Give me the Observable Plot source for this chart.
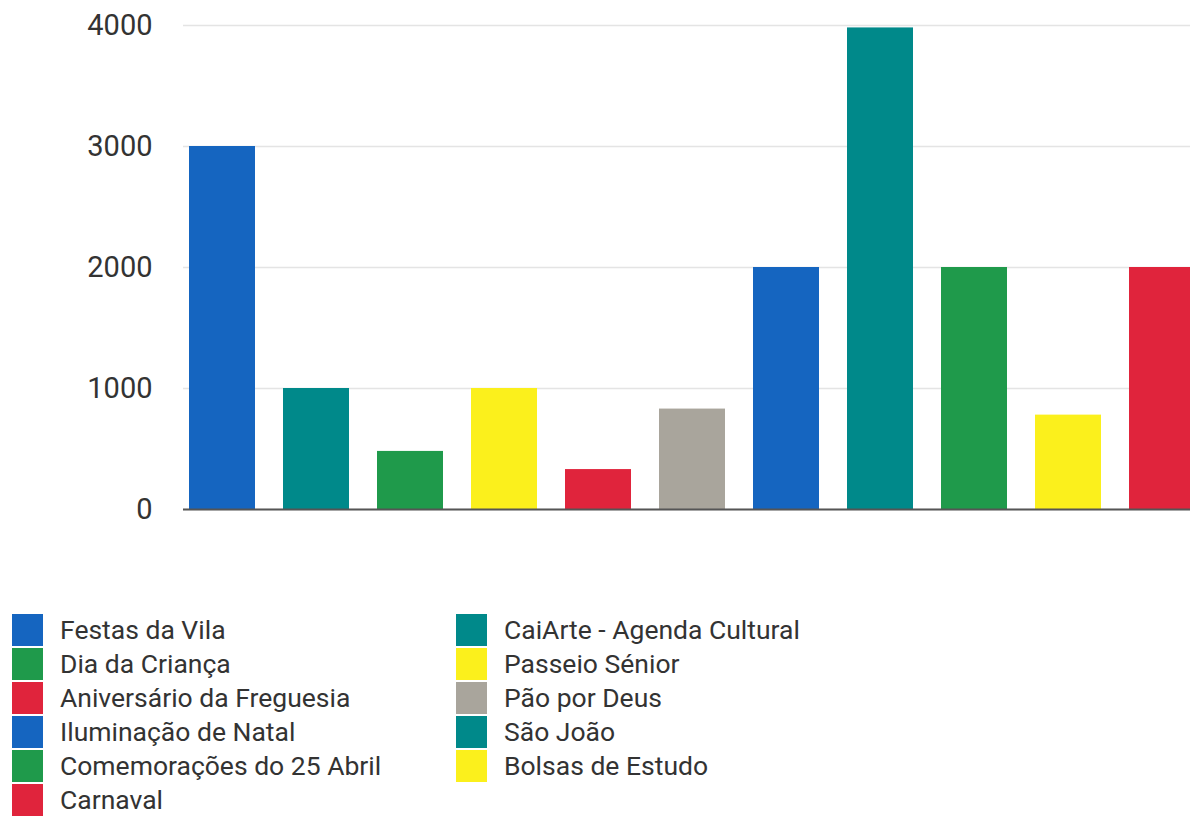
<!DOCTYPE html>
<html>
<head>
<meta charset="utf-8">
<script src="https://cdn.jsdelivr.net/npm/d3@7"></script>
<script src="https://cdn.jsdelivr.net/npm/@observablehq/plot@0.6"></script>
<style>
  html, body { margin: 0; padding: 0; background: #fff; }
  body { width: 1190px; height: 816px; overflow: hidden; font-family: Roboto, "Noto Sans", sans-serif; }
  #legend {
    display: grid;
    grid-template-columns: 444px 420px;
    grid-auto-rows: 34px;
    margin-left: 12px;
    margin-top: 73px;
  }
  .item { display: flex; align-items: center; font-size: 26.5px; line-height: 1; color: #333; white-space: nowrap; }
  .sw { width: 31px; height: 32px; margin-right: 17px; flex: none; }
</style>
</head>
<body>
<div id="chart"></div>
<div id="legend"></div>
<script>
const categories = [
  "Festas da Vila",
  "CaiArte - Agenda Cultural",
  "Dia da Criança",
  "Passeio Sénior",
  "Aniversário da Freguesia",
  "Pão por Deus",
  "Iluminação de Natal",
  "São João",
  "Comemorações do 25 Abril",
  "Bolsas de Estudo",
  "Carnaval"
];
const values = [3000, 1000, 480, 1000, 330, 830, 2000, 3980, 2000, 780, 2000];
const colors = ["#1565c0", "#00898a", "#1f9a4b", "#fbf01c", "#e0243c", "#a9a59c",
                "#1565c0", "#00898a", "#1f9a4b", "#fbf01c", "#e0243c"];
const yTicks = [0, 1000, 2000, 3000, 4000];

const data = categories.map((name, i) => ({name, value: values[i]}));

const chart = Plot.plot({
  width: 1190,
  height: 540,
  marginTop: 25,
  marginBottom: 31,
  marginLeft: 183,
  marginRight: 0,
  style: {fontFamily: "Roboto, 'Noto Sans', sans-serif", fontSize: "29px", color: "#333", background: "#fff", overflow: "hidden"},
  x: {domain: categories, axis: null, paddingInner: 0.3, paddingOuter: 0, range: [187, 1197]},
  y: {domain: [0, 4000], ticks: yTicks, label: null},
  color: {domain: categories, range: colors},
  marks: [
    Plot.gridY(yTicks, {stroke: "#e4e4e4", strokeOpacity: 1, strokeWidth: 1.5}),
    Plot.barY(data, {x: "name", y: "value", fill: "name"}),
    Plot.ruleY([0], {stroke: "#555", strokeWidth: 2}),
    Plot.axisY(yTicks, {tickSize: 0, tickPadding: 31, label: null, fontSize: 29, fill: "#333", tickFormat: d => String(d)})
  ]
});
document.getElementById("chart").appendChild(chart);

const legend = document.getElementById("legend");
categories.forEach((name, i) => {
  const item = document.createElement("div");
  item.className = "item";
  const sw = document.createElement("span");
  sw.className = "sw";
  sw.style.background = colors[i];
  const label = document.createElement("span");
  label.textContent = name;
  item.appendChild(sw);
  item.appendChild(label);
  legend.appendChild(item);
});
</script>
</body>
</html>
